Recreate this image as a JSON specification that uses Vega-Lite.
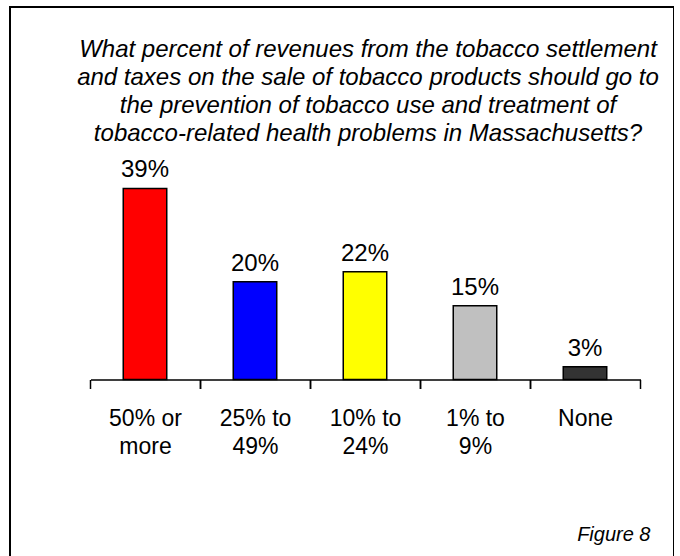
{
  "$schema": "https://vega.github.io/schema/vega-lite/v6.json",
  "width": 664,
  "height": 560,
  "autosize": "none",
  "padding": {"left": 10, "top": 7, "right": 0, "bottom": 0},
  "background": "white",
  "title": {
    "text": ["What percent of revenues from the tobacco settlement", "and taxes on the sale of tobacco products should go to", "the prevention of tobacco use and treatment of", "tobacco-related health problems in Massachusetts?"],
    "anchor": "middle",
    "frame": "group",
    "orient": "top",
    "baseline": "top",
    "offset": -138.7,
    "dx": 26,
    "font": "Liberation Sans",
    "fontSize": 24,
    "fontStyle": "italic",
    "fontWeight": "normal",
    "lineHeight": 28,
    "color": "black"
  },
  "config": {
    "view": {"stroke": "black", "strokeWidth": 2},
    "font": "Liberation Sans"
  },
  "data": {
    "values": [
      {"category": "50% or more", "share": 0.3898},
      {"category": "25% to 49%", "share": 0.1996},
      {"category": "10% to 24%", "share": 0.22},
      {"category": "1% to 9%", "share": 0.1506},
      {"category": "None", "share": 0.026}
    ]
  },
  "layer": [
    {
      "mark": {"type": "bar", "stroke": "black", "strokeWidth": 1.5},
      "encoding": {
        "x": {
          "field": "category",
          "type": "nominal",
          "sort": null,
          "scale": {"paddingInner": 0.60455, "paddingOuter": 0.82045, "align": 0.62742},
          "axis": {
            "orient": "bottom",
            "offset": -187.5,
            "grid": false,
            "domain": true,
            "domainColor": "black",
            "domainWidth": 1.5,
            "domainDash": [0, 80.5, 550, 1000],
            "ticks": true,
            "tickColor": "black",
            "tickWidth": 1.5,
            "tickSize": 9,
            "tickOffset": -54.5,
            "labelOffset": 54.5,
            "labelAngle": 0,
            "labelOverlap": false,
            "labelExpr": "lastindexof(datum.label, ' ') > 0 ? [slice(datum.label, 0, lastindexof(datum.label, ' ')), slice(datum.label, lastindexof(datum.label, ' ') + 1)] : datum.label",
            "labelFont": "Liberation Sans",
            "labelFontSize": 23,
            "labelColor": "black",
            "labelLineHeight": 27.6,
            "labelPadding": 19,
            "title": "Figure 8",
            "titleFont": "Liberation Sans",
            "titleFontSize": 20,
            "titleFontStyle": "italic",
            "titleFontWeight": "normal",
            "titleColor": "black",
            "titleX": 640,
            "titleY": 160.5,
            "titleAlign": "right",
            "titleAnchor": null,
            "titleBaseline": "alphabetic"
          }
        },
        "y": {
          "field": "share",
          "type": "quantitative",
          "scale": {"domain": [-0.3827, 0.7602], "nice": false},
          "axis": null
        },
        "color": {
          "field": "category",
          "type": "nominal",
          "scale": {
            "domain": ["50% or more", "25% to 49%", "10% to 24%", "1% to 9%", "None"],
            "range": ["#ff0000", "#0000ff", "#ffff00", "#c0c0c0", "#333333"]
          },
          "legend": null
        }
      }
    },
    {
      "mark": {"type": "text", "dy": -11, "baseline": "alphabetic", "font": "Liberation Sans", "fontSize": 24, "color": "black"},
      "encoding": {
        "x": {
          "field": "category",
          "type": "nominal",
          "sort": null,
          "axis": {
            "orient": "bottom",
            "offset": -187.5,
            "grid": false,
            "domain": false,
            "labels": false,
            "ticks": true,
            "tickColor": "black",
            "tickWidth": 1.5,
            "tickSize": 9,
            "tickOffset": 55.5,
            "title": null
          }
        },
        "y": {"field": "share", "type": "quantitative", "axis": null},
        "text": {"field": "share", "type": "quantitative", "format": ".0%"}
      }
    }
  ],
  "resolve": {"axis": {"x": "independent"}}
}
